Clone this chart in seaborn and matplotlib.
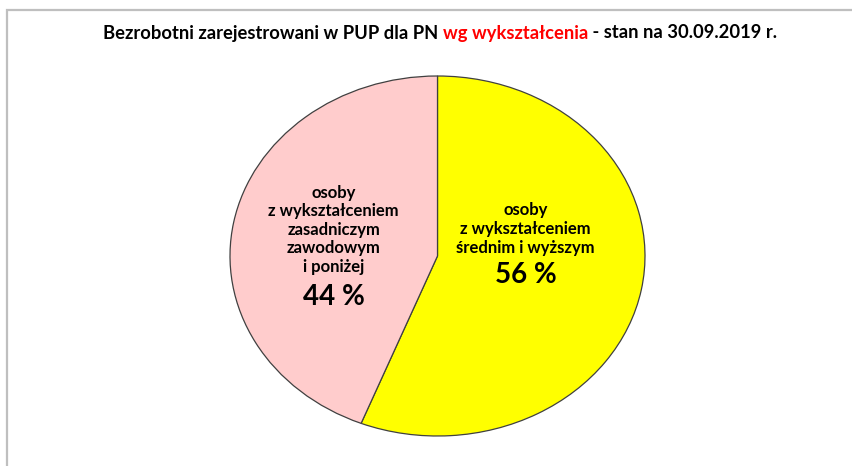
import numpy as np
import pandas as pd
import matplotlib
matplotlib.use('Agg')
import matplotlib.pyplot as plt
import seaborn as sns
from matplotlib.patches import Rectangle

# data
categories = ['osoby\nz wykształceniem\nśrednim i wyższym',
              'osoby\nz wykształceniem\nzasadniczym\nzawodowym\ni poniżej']
shares = [56, 44]
slice_colors = ['#FFFF00', '#FFCCCC']
title_parts = ['Bezrobotni zarejestrowani w PUP dla PN ', 'wg wykształcenia', ' - stan na 30.09.2019 r.']
title_colors = ['black', '#FF0000', 'black']

sns.set_theme(style='white')
plt.rcParams['font.family'] = ['Lato', 'DejaVu Sans']

W, H = 853, 466
fig = plt.figure(figsize=(W / 100, H / 100), dpi=100)

# grey frame of the chart area (right/bottom edges cut off in the picture)
fig.patches.append(Rectangle((7 / W, -0.1), 1.2, (H - 10) / H + 0.1, transform=fig.transFigure,
                             fill=False, edgecolor='#BFBFBF', linewidth=1.6))

# pie is stretched into an ellipse
ax = fig.add_axes([230 / W, (H - 436) / H, (645 - 230) / W, (436 - 76) / H])
df = pd.DataFrame({'label': categories, 'share': shares, 'color': slice_colors})
ax.pie(df['share'], colors=df['color'], startangle=90, counterclock=False,
       wedgeprops=dict(edgecolor='#404040', linewidth=0.9))
ax.set_aspect('auto')
ax.set_xlim(-1, 1)
ax.set_ylim(-1, 1)
ax.axis('off')

# slice labels
label_pos = [(0.425, 0.15), (-0.50, 0.145)]
pct_pos = [(0.425, -0.105), (-0.50, -0.23)]
for (lx, ly), (px, py), lab, val in zip(label_pos, pct_pos, df['label'], df['share']):
    ax.text(lx, ly, lab, ha='center', va='center', fontsize=12, fontweight='bold',
            linespacing=1.2, color='black')
    ax.text(px, py, f'{val} %', ha='center', va='center', fontsize=20, fontweight='bold',
            color='black')

# multi-coloured title
fig.canvas.draw()
r = fig.canvas.get_renderer()
pieces = []
for part, col in zip(title_parts, title_colors):
    t = fig.text(0, 1 - 33 / H, part, color=col, fontsize=13.2, fontweight='bold',
                 va='center', ha='left')
    pieces.append(t)
widths = [t.get_window_extent(r).width for t in pieces]
x = (440 - sum(widths) / 2)
for t, w in zip(pieces, widths):
    t.set_x(x / W)
    x += w

fig.savefig('out.png', dpi=100)
